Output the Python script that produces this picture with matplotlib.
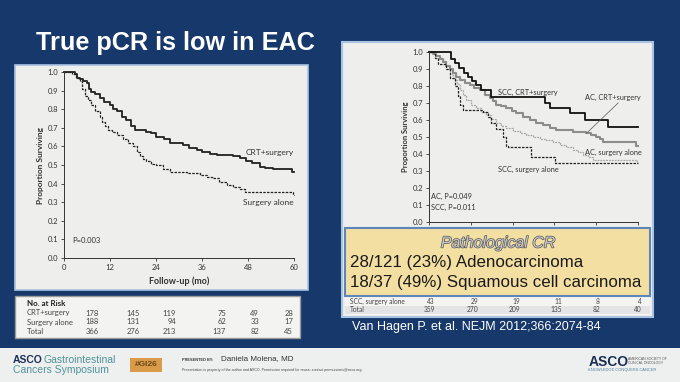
import matplotlib
matplotlib.use("Agg")
import matplotlib.pyplot as plt
from matplotlib.patches import Rectangle
import matplotlib.patheffects as pe

W, H = 680, 382

# ---------------- data ----------------
months_ticks = [0, 12, 24, 36, 48, 60]
surv_ticks = [0.0, 0.1, 0.2, 0.3, 0.4, 0.5, 0.6, 0.7, 0.8, 0.9, 1.0]

crt_t = [0, 2.8, 3.5, 4.1, 5.0, 6.0, 6.5, 7.1, 8.2, 9.3, 10.5, 11.9, 12.8, 13.7, 15.0, 16.3, 17.5,
         18.5, 21.5, 22.8, 24.1, 26.0, 27.6, 31.1, 32.5, 34.6, 36.0, 38.0, 40.0, 44.2, 46.0, 47.6,
         49.0, 51.0, 52.5, 54.6, 59.4, 60]
crt_s = [1.0, 0.99, 0.97, 0.96, 0.95, 0.94, 0.91, 0.89, 0.88, 0.86, 0.84, 0.82, 0.80, 0.79, 0.76, 0.74,
         0.71, 0.69, 0.68, 0.67, 0.65, 0.64, 0.62, 0.61, 0.59, 0.58, 0.57, 0.56, 0.555, 0.55, 0.54,
         0.52, 0.51, 0.49, 0.485, 0.48, 0.465, 0.465]

surg_t = [0, 2.0, 3.0, 4.1, 4.8, 5.4, 6.2, 7.1, 8.2, 9.3, 10.0, 10.6, 11.5, 12.4, 13.8, 15.4, 16.7,
          18.0, 19.0, 19.8, 20.6, 21.5, 22.8, 24.1, 25.8, 27.6, 32.0, 35.5, 37.2, 38.9, 40.5, 42.4,
          44.0, 45.9, 47.2, 59.8, 60]
surg_s = [1.0, 0.99, 0.97, 0.95, 0.91, 0.87, 0.85, 0.82, 0.79, 0.76, 0.73, 0.71, 0.69, 0.68, 0.66, 0.64,
          0.62, 0.60, 0.57, 0.55, 0.53, 0.52, 0.505, 0.50, 0.48, 0.46, 0.455, 0.445, 0.435, 0.43, 0.41,
          0.39, 0.38, 0.37, 0.355, 0.34, 0.34]

scc_crt_t = [0, 6.2, 7.4, 8.6, 10.0, 11.2, 12.4, 13.6, 15.0, 17.9, 33.2, 34.6, 40.4, 44.7, 51.4, 60]
scc_crt_s = [1.0, 0.96, 0.935, 0.905, 0.876, 0.852, 0.827, 0.807, 0.778, 0.734, 0.70, 0.669, 0.64,
             0.60, 0.56, 0.56]

ac_crt_t = [0, 1.1, 2.0, 3.1, 4.0, 5.0, 6.0, 6.9, 7.8, 8.8, 10.2, 11.7, 13.0, 14.5, 16.0, 17.4, 18.3,
            19.3, 20.8, 22.2, 23.7, 25.1, 27.0, 28.9, 30.8, 32.7, 34.6, 36.6, 41.3, 45.2, 46.6, 48.0,
            49.0, 50.0, 59.5, 60]
ac_crt_s = [1.0, 0.99, 0.975, 0.96, 0.94, 0.92, 0.90, 0.875, 0.855, 0.836, 0.82, 0.807, 0.79, 0.778,
            0.75, 0.728, 0.71, 0.689, 0.68, 0.669, 0.655, 0.64, 0.62, 0.60, 0.585, 0.571, 0.555, 0.541,
            0.531, 0.522, 0.51, 0.502, 0.487, 0.472, 0.447, 0.447]

ac_surg_t = [0, 2.1, 3.0, 4.0, 5.0, 5.9, 6.6, 7.4, 8.1, 8.8, 9.7, 10.7, 12.1, 13.6, 15.0, 16.5, 17.9,
             19.3, 20.7, 22.2, 24.0, 26.0, 27.9, 29.9, 31.8, 33.7, 35.6, 37.5, 39.4, 41.3, 42.8, 44.2,
             45.6, 47.1, 59.7, 60]
ac_surg_s = [1.0, 0.98, 0.965, 0.945, 0.92, 0.896, 0.865, 0.837, 0.81, 0.778, 0.75, 0.718, 0.69, 0.669,
             0.65, 0.63, 0.605, 0.581, 0.565, 0.551, 0.535, 0.522, 0.51, 0.502, 0.49, 0.482, 0.468,
             0.453, 0.44, 0.423, 0.41, 0.394, 0.38, 0.364, 0.354, 0.354]

scc_surg_t = [0, 1.6, 2.6, 5.0, 5.9, 7.4, 8.3, 9.0, 9.8, 15.5, 16.9, 17.9, 19.3, 21.2, 22.2, 22.7,
              29.4, 36.1, 60]
scc_surg_s = [1.0, 0.965, 0.93, 0.90, 0.85, 0.80, 0.74, 0.69, 0.66, 0.65, 0.62, 0.58, 0.55, 0.50,
              0.45, 0.443, 0.384, 0.348, 0.348]

risk_rows_left = ["CRT+surgery", "Surgery alone", "Total"]
risk_left = [[178, 145, 119, 75, 49, 28],
             [188, 131, 94, 62, 33, 17],
             [366, 276, 213, 137, 82, 45]]
risk_rows_right = ["SCC, surgery alone", "Total"]
risk_right = [[43, 29, 19, 11, 8, 4],
              [359, 270, 209, 135, 82, 40]]

# ---------------- style ----------------
NAVY = "#17386a"
PANEL = "#eeeeec"
CHART_FONT = ["Lato", "DejaVu Sans"]
SLIDE_FONT = ["Liberation Sans", "DejaVu Sans"]

fig = plt.figure(figsize=(W / 100, H / 100), dpi=100)
fig.patch.set_facecolor(NAVY)


def frac(x0, y0, x1, y1):
    return [x0 / W, 1 - y1 / H, (x1 - x0) / W, (y1 - y0) / H]


def overlay(z):
    ax = fig.add_axes([0, 0, 1, 1], zorder=z)
    ax.set_xlim(0, W)
    ax.set_ylim(H, 0)
    ax.axis("off")
    ax.patch.set_alpha(0)
    return ax


bg = overlay(0)
# footer
bg.add_patch(Rectangle((0, 348), W, 34, facecolor="#eef0f0", edgecolor="none"))
# panels
bg.add_patch(Rectangle((15, 65), 293, 225, facecolor=PANEL, edgecolor="#a9c3e3", lw=1.2))
bg.add_patch(Rectangle((342, 42), 311, 275, facecolor=PANEL, edgecolor="#a9c3e3", lw=1.5))

bg.text(36, 50, "True pCR is low in EAC", color="white", fontsize=18.2, fontweight="bold",
        family=SLIDE_FONT, va="baseline", ha="left")


def style_axes(ax, xlabels=True):
    ax.set_facecolor("none")
    ax.set_xlim(0, 60)
    ax.set_ylim(0, 1.0)
    for s in ["top", "right"]:
        ax.spines[s].set_visible(False)
    for s in ["left", "bottom"]:
        ax.spines[s].set_color("#333333")
        ax.spines[s].set_linewidth(0.7)
    ax.set_xticks(months_ticks)
    ax.set_yticks(surv_ticks)
    ax.set_yticklabels([f"{v:.1f}" for v in surv_ticks], family=CHART_FONT, fontsize=5.5, color="#333333")
    if xlabels:
        ax.set_xticklabels([str(v) for v in months_ticks], family=CHART_FONT, fontsize=5.5, color="#333333")
    else:
        ax.set_xticklabels([])
    ax.tick_params(length=2.5, width=0.6, color="#333333", pad=1.5)
    ax.set_ylabel("Proportion Surviving", family=CHART_FONT, fontsize=6, fontweight="bold",
                  color="#333333", labelpad=3)


# ---------------- left chart ----------------
axL = fig.add_axes(frac(64, 72, 294, 258), zorder=2)
style_axes(axL)
axL.step(crt_t, crt_s, where="post", color="#222222", lw=1.3, clip_on=False)
axL.step(surg_t, surg_s, where="post", color="#222222", lw=0.9, ls=(0, (2.0, 1.0)), clip_on=False)
axL.set_xlabel("Follow-up (mo)", family=CHART_FONT, fontsize=6.5, fontweight="bold", color="#333333",
               labelpad=4)
axL.text(60, 0.567, "CRT+surgery", ha="right", va="center", family=CHART_FONT, fontsize=6, color="#333333")
axL.text(60, 0.30, "Surgery alone", ha="right", va="center", family=CHART_FONT, fontsize=6, color="#333333")
axL.text(2.2, 0.095, "P=0.003", ha="left", va="center", family=CHART_FONT, fontsize=5.5, color="#333333")

# ---------------- right chart ----------------
axR = fig.add_axes(frac(429, 52, 638, 222), zorder=2)
style_axes(axR, xlabels=False)
axR.yaxis.label.set_fontsize(5.5)
axR.step(ac_surg_t, ac_surg_s, where="post", color="#a8a8a8", lw=0.9, ls=(0, (1.5, 0.8)), clip_on=False)
axR.step(ac_crt_t, ac_crt_s, where="post", color="#8c8c8c", lw=1.5, clip_on=False)
axR.step(scc_surg_t, scc_surg_s, where="post", color="#222222", lw=0.9, ls=(0, (2.0, 1.0)), clip_on=False)
axR.step(scc_crt_t, scc_crt_s, where="post", color="#111111", lw=1.3, clip_on=False)
axR.text(19.8, 0.76, "SCC, CRT+surgery", ha="left", va="center", family=CHART_FONT, fontsize=5.3, color="#333333")
axR.text(44.7, 0.734, "AC, CRT+surgery", ha="left", va="center", family=CHART_FONT, fontsize=5.3, color="#333333")
axR.plot([45.2, 54.3], [0.522, 0.70], color="#555555", lw=0.5)
axR.text(44.7, 0.41, "AC, surgery alone", ha="left", va="center", family=CHART_FONT, fontsize=5.3, color="#333333")
axR.text(19.8, 0.31, "SCC, surgery alone", ha="left", va="center", family=CHART_FONT, fontsize=5.3, color="#333333")
axR.text(0.7, 0.148, "AC, P=0.049", ha="left", va="center", family=CHART_FONT, fontsize=5.3, color="#333333")
axR.text(0.7, 0.085, "SCC, P=0.011", ha="left", va="center", family=CHART_FONT, fontsize=5.3, color="#333333")

# ---------------- overlays: tables, yellow box, footer ----------------
fg = overlay(5)

# left risk table
fg.add_patch(Rectangle((15, 296), 285, 42, facecolor="#f3f3f2", edgecolor="#9a9a9a", lw=1.0))
fg.text(27, 304, "No. at Risk", family=CHART_FONT, fontsize=5.8, fontweight="bold", color="#222222",
        va="center", ha="left")
left_cols = [99, 140, 176, 226, 259, 293]
for r, (name, vals) in enumerate(zip(risk_rows_left, risk_left)):
    y = 313 + r * 9
    fg.text(27, y, name, family=CHART_FONT, fontsize=5.5, color="#444444", va="center", ha="left")
    for cx, v in zip(left_cols, vals):
        fg.text(cx, y, str(v), family=CHART_FONT, fontsize=5.5, color="#444444", va="center", ha="right")

# right risk table
fg.add_patch(Rectangle((345, 297), 305, 18, facecolor="#f4f4f3", edgecolor="none"))
fg.add_patch(Rectangle((345, 306), 305, 8, facecolor="#e4e4e4", edgecolor="none"))
right_cols = [435, 478, 520, 562, 600, 642]
for r, (name, vals) in enumerate(zip(risk_rows_right, risk_right)):
    y = 301 + r * 9
    fg.text(350, y, name, family=CHART_FONT, fontsize=4.8, color="#444444", va="center", ha="left")
    for cx, v in zip(right_cols, vals):
        fg.text(cx, y, str(v), family=CHART_FONT, fontsize=4.8, color="#444444", va="center", ha="right")

# yellow box
fg.add_patch(Rectangle((345, 228), 305, 68, facecolor="#f4dfa3", edgecolor="#5f86b8", lw=1.5))
fg.text(498, 243, "Pathological CR", family=SLIDE_FONT, fontsize=11.5, style="italic", color="#c9c9c9",
        ha="center", va="center",
        path_effects=[pe.withStroke(linewidth=1.0, foreground="#555555")])
fg.text(350, 263, "28/121 (23%) Adenocarcinoma", family=SLIDE_FONT, fontsize=12.2, color="#1a1a1a",
        ha="left", va="center")
fg.text(350, 283, "18/37 (49%) Squamous cell carcinoma", family=SLIDE_FONT, fontsize=12.2, color="#1a1a1a",
        ha="left", va="center")

fg.text(352, 327, "Van Hagen P. et al. NEJM 2012;366:2074-84", family=SLIDE_FONT, fontsize=9,
        color="white", ha="left", va="center")

# footer
fg.text(13, 360, "ASCO", family=SLIDE_FONT, fontsize=7.5, fontweight="bold", color="#1b2f55",
        ha="left", va="center")
fg.text(43, 360, "Gastrointestinal", family=SLIDE_FONT, fontsize=7.5, color="#4f9398",
        ha="left", va="center")
fg.text(13, 370, "Cancers Symposium", family=SLIDE_FONT, fontsize=7.5, color="#4f9398",
        ha="left", va="center")
fg.add_patch(Rectangle((130, 358), 32, 14, facecolor="#d99b49", edgecolor="none"))
fg.text(146, 365, "#GI26", family=SLIDE_FONT, fontsize=6, fontweight="bold", color="#6b4a1a",
        ha="center", va="center")
fg.text(182, 360, "PRESENTED BY:", family=SLIDE_FONT, fontsize=2.8, fontweight="bold", color="#333333",
        ha="left", va="center")
fg.text(221, 359, "Daniela Molena, MD", family=SLIDE_FONT, fontsize=5.8, color="#333333",
        ha="left", va="center")
fg.text(182, 370, "Presentation is property of the author and ASCO. Permission required for reuse; contact permissions@asco.org",
        family=SLIDE_FONT, fontsize=2.6, color="#444444", ha="left", va="center")
fg.text(589, 362, "ASCO", family=SLIDE_FONT, fontsize=10, fontweight="bold", color="#1b2f55",
        ha="left", va="center")
fg.text(628, 359, "AMERICAN SOCIETY OF", family=SLIDE_FONT, fontsize=2.4, color="#555555",
        ha="left", va="center")
fg.text(628, 363, "CLINICAL ONCOLOGY", family=SLIDE_FONT, fontsize=2.4, color="#555555",
        ha="left", va="center")
fg.text(588, 370, "KNOWLEDGE CONQUERS CANCER", family=SLIDE_FONT, fontsize=2.9, color="#4f7fa0",
        ha="left", va="center")

fig.savefig("out.png", dpi=100, facecolor=fig.get_facecolor())
